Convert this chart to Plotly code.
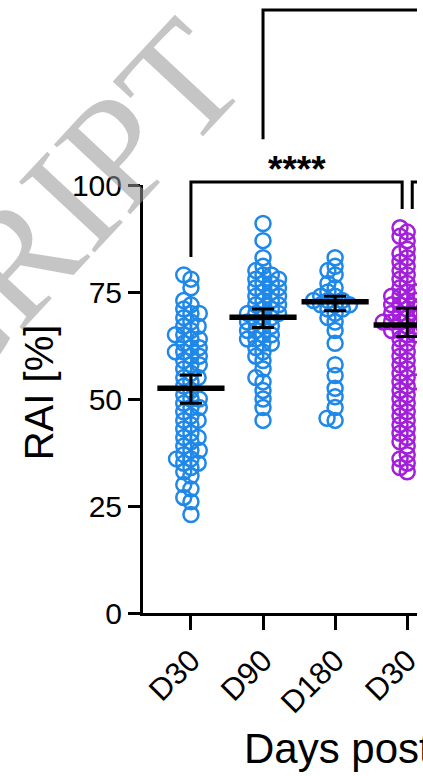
import numpy as np
import plotly.graph_objects as go

# ---------------- data ----------------
categories = ["D30", "D90", "D180", "D30"]
group_colors = ["#1f88e8", "#1f88e8", "#1f88e8", "#a31fdc"]

rai_d30_a = [79, 78, 76, 73, 72, 71, 70, 70, 69, 68, 67, 67, 66, 65, 65, 64, 64, 63,
             62, 62, 61, 61, 60, 60, 59, 58, 58, 57, 56, 55, 55, 54, 53, 52, 51, 50,
             50, 49, 48, 48, 47, 46, 45, 45, 44, 43, 42, 41, 41, 40, 39, 38, 38, 37,
             36, 36, 35, 35, 34, 33, 32, 30, 29, 27, 26, 23]
rai_d90 = [91, 87, 83, 81, 80, 79, 79, 78, 78, 77, 77, 76, 76, 75, 75, 74, 74, 73,
           73, 72, 72, 71, 71, 70, 70, 70, 69, 69, 68, 68, 67, 67, 66, 66, 65, 65,
           64, 64, 63, 63, 62, 61, 60, 59, 57, 55, 54, 52, 50, 48, 45]
rai_d180 = [83, 81, 80, 79, 77, 76, 75, 74, 74, 73, 73, 73, 72, 72, 72, 71, 71, 70,
            69, 68, 66, 63, 58, 55.5, 52.5, 50.5, 48, 45.5, 45]
rai_d30_b = [90, 89, 88, 87, 85, 84, 83, 82, 81, 80, 79, 78, 77, 76, 75, 75, 74, 74,
             73, 73, 72, 72, 71, 71, 71, 70, 70, 69, 69, 69, 68, 68, 68, 67, 67, 67,
             66, 66, 65, 65, 64, 63, 62, 61, 60, 59, 58, 57, 56, 55, 54, 54, 53, 52,
             51, 50, 49, 48, 47, 46, 45, 44, 43, 42, 41, 40, 39, 37, 36, 35, 34, 33]
groups = [rai_d30_a, rai_d90, rai_d180, rai_d30_b]

medians = [52.5, 69.1, 72.7, 67.3]
ci_upper = [55.6, 71.0, 74.0, 71.2]
ci_lower = [49.0, 66.7, 70.6, 64.6]

stars_label = "****"

# ---------------- layout geometry ----------------
W, H = 423, 776
M_L, M_R, M_T, M_B = 143, 0, 185, 163
X_RANGE = [-0.665, 3.136]
Y_RANGE = [0, 100]
PW = W - M_L - M_R
PH = H - M_T - M_B
ppx = PW / (X_RANGE[1] - X_RANGE[0])
ppy = PH / (Y_RANGE[1] - Y_RANGE[0])

FONT = "Arial, Liberation Sans, sans-serif"


def beeswarm(vals, dmin=8.5):
    vals = np.asarray(vals, dtype=float)
    order = np.argsort(vals)
    placed = []
    offs = np.zeros(len(vals))
    for idx in order:
        y = vals[idx] * ppy
        forb = []
        for px, py in placed:
            dy = abs(py - y)
            if dy < dmin:
                h = np.sqrt(dmin ** 2 - dy ** 2)
                forb.append((px - h, px + h))
        cands = [0.0] + [a for a, b in forb] + [b for a, b in forb]
        cands.sort(key=lambda c: (abs(c), c))
        for c in cands:
            if all(not (a + 1e-6 < c < b - 1e-6) for a, b in forb):
                offs[idx] = c
                break
        placed.append((offs[idx], y))
    return offs / ppx


fig = go.Figure()

for i, vals in enumerate(groups):
    xo = beeswarm(vals) + i
    fig.add_trace(go.Scatter(
        x=xo, y=vals, mode="markers",
        marker=dict(symbol="circle-open", size=15, color=group_colors[i],
                    line=dict(width=2.5, color=group_colors[i])),
        showlegend=False, hoverinfo="y"))

# medians with 95% CI
fig.add_trace(go.Scatter(
    x=list(range(len(categories))), y=medians, mode="markers",
    marker=dict(symbol="line-ew", size=48, color="black",
                line=dict(width=5.5, color="black")),
    error_y=dict(type="data", symmetric=False,
                 array=[u - m for u, m in zip(ci_upper, medians)],
                 arrayminus=[m - l for l, m in zip(ci_lower, medians)],
                 color="black", thickness=3, width=11),
    showlegend=False, hoverinfo="skip"))


# significance brackets (y in data units above the axis -> paper)
def yp(v):
    return (v - Y_RANGE[0]) / (Y_RANGE[1] - Y_RANGE[0])


line_style = dict(color="black", width=3)
fig.add_shape(type="path", xref="x", yref="paper",
              path=f"M 0,{yp(83.2)} L 0,{yp(100.7)} L 2.93,{yp(100.7)} L 2.93,{yp(94.4)}",
              line=line_style)
fig.add_shape(type="path", xref="x", yref="paper",
              path=f"M 3.07,{yp(94.4)} L 3.07,{yp(100.7)} L 3.6,{yp(100.7)}",
              line=line_style)
fig.add_shape(type="path", xref="x", yref="paper",
              path=f"M 1,{yp(110.7)} L 1,{yp(140.9)} L 3.6,{yp(140.9)}",
              line=line_style)

fig.add_annotation(x=1.465, y=yp(103.6), xref="x", yref="paper",
                   text=f"<b>{stars_label}</b>",
                   showarrow=False, font=dict(family=FONT, size=37, color="black"),
                   xanchor="center", yanchor="middle")

# axis titles
fig.add_annotation(x=(37 - M_L) / PW, y=(H - M_B - 392) / PH,
                   xref="paper", yref="paper", text="RAI [%]", textangle=-90,
                   showarrow=False, font=dict(family=FONT, size=40, color="black"),
                   xanchor="center", yanchor="middle")
fig.add_annotation(x=(244 - M_L) / PW, y=(H - M_B - 748) / PH,
                   xref="paper", yref="paper", text="Days post",
                   showarrow=False, font=dict(family=FONT, size=42, color="black"),
                   xanchor="left", yanchor="middle")

# watermark
fig.add_annotation(x=(59 - M_L) / PW, y=(H - M_B - 211) / PH,
                   xref="paper", yref="paper", text="CRIPT", textangle=-47,
                   showarrow=False,
                   font=dict(family="Liberation Serif, Times New Roman, serif", size=158,
                             color="rgba(150,150,150,0.55)"),
                   xanchor="center", yanchor="middle")

fig.update_layout(
    width=W, height=H,
    margin=dict(l=M_L, r=M_R, t=M_T, b=M_B, pad=0),
    paper_bgcolor="white", plot_bgcolor="white",
    font=dict(family=FONT, color="black"),
    xaxis=dict(range=X_RANGE, tickvals=list(range(len(categories))), ticktext=categories,
               tickangle=-45, showgrid=False, zeroline=False, showline=True,
               linecolor="black", linewidth=3, ticks="outside", ticklen=14,
               tickwidth=3, tickcolor="black", tickfont=dict(size=31, family=FONT),
               ticklabeloverflow="allow"),
    yaxis=dict(range=Y_RANGE, tickvals=[0, 25, 50, 75, 100], showgrid=False,
               zeroline=False, showline=True, linecolor="black", linewidth=3,
               ticks="outside", ticklen=12, tickwidth=3, tickcolor="black",
               tickfont=dict(size=30, family=FONT)),
)

fig.write_html("out.html", config={"displayModeBar": False},
               post_script="document.body.style.margin='0px';document.body.style.overflow='hidden';")
